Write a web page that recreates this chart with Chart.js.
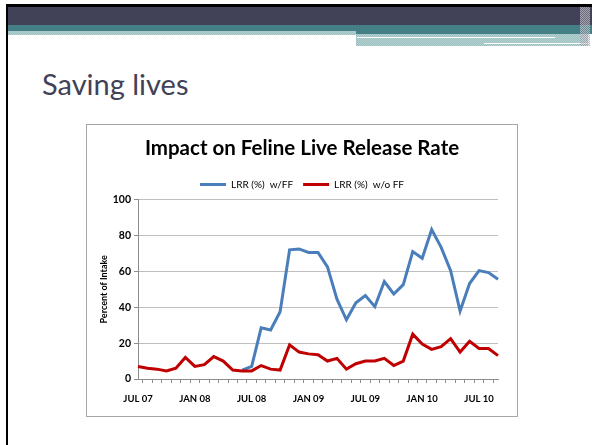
<!DOCTYPE html>
<html>
<head>
<meta charset="utf-8">
<script src="https://cdn.jsdelivr.net/npm/chart.js@4/dist/chart.umd.min.js"></script>
<style>
  html, body { margin: 0; padding: 0; background: #fff; }
  body { width: 592px; height: 445px; position: relative; overflow: hidden; }
  .border-top { position: absolute; left: 6px; top: 4px; width: 586px; height: 3px; background: #000; }
  .border-left { position: absolute; left: 6px; top: 4px; width: 2px; height: 441px; background: #000; }
  .bar-dark { position: absolute; left: 8px; top: 7px; width: 584px; height: 18px; background: #414257; }
  .bar-teal { position: absolute; left: 8px; top: 25px; width: 584px; height: 6px; background: #437f85; }
  .bar-teal-r { position: absolute; left: 356px; top: 31px; width: 236px; height: 3px; background: #437f85; }
  .check-l { position: absolute; left: 8px; top: 31px; width: 348px; height: 4px;
    background: repeating-conic-gradient(#9dc0c1 0 25%, #b4d1d2 0 50%) 0 0/2px 2px; }
  .check-r { position: absolute; left: 356px; top: 34px; width: 232px; height: 12px;
    background: repeating-conic-gradient(#9dc0c1 0 25%, #b4d1d2 0 50%) 0 0/2px 2px; }
  .line1 { position: absolute; left: 357px; top: 37px; width: 198px; height: 1px; background: #fff; }
  .line2 { position: absolute; left: 484px; top: 43px; width: 104px; height: 1px; background: #fff; }
  .col-r { position: absolute; left: 580px; top: 7px; width: 10px; height: 39px; opacity: 0.6;
    background: repeating-conic-gradient(#8a8a98 0 25%, #e0e0e6 0 50%) 0 0/2px 2px; }
  .slide-title { position: absolute; left: 42px; top: 69px; font-family: Lato, sans-serif;
    font-size: 29px; line-height: 1; color: #414257; white-space: nowrap; }
  .chart-box { position: absolute; left: 86px; top: 124px; width: 430px; height: 291px;
    border: 1px solid #a6a6a6; background: #fff; }
  canvas { display: block; }
</style>
</head>
<body>
<div class="border-top"></div>
<div class="border-left"></div>
<div class="bar-dark"></div>
<div class="bar-teal"></div>
<div class="bar-teal-r"></div>
<div class="check-l"></div>
<div class="check-r"></div>
<div class="line1"></div>
<div class="line2"></div>
<div class="col-r"></div>
<div class="slide-title">Saving lives</div>
<div class="chart-box"><canvas id="myChart" width="430" height="291"></canvas></div>

<script>
// months, JUL 07 .. SEP 10
const months = [
  'JUL 07', 'AUG 07', 'SEP 07', 'OCT 07', 'NOV 07', 'DEC 07',
  'JAN 08', 'FEB 08', 'MAR 08', 'APR 08', 'MAY 08', 'JUN 08',
  'JUL 08', 'AUG 08', 'SEP 08', 'OCT 08', 'NOV 08', 'DEC 08',
  'JAN 09', 'FEB 09', 'MAR 09', 'APR 09', 'MAY 09', 'JUN 09',
  'JUL 09', 'AUG 09', 'SEP 09', 'OCT 09', 'NOV 09', 'DEC 09',
  'JAN 10', 'FEB 10', 'MAR 10', 'APR 10', 'MAY 10', 'JUN 10',
  'JUL 10', 'AUG 10', 'SEP 10',
];

// LRR (%) w/FF - nothing before JUN 08
const withFF = [
  null, null, null, null, null, null,
  null, null, null, null, null, 5,
  7, 28.5, 27.3, 37.5, 72, 72.5,
  70.5, 70.5, 62.5, 44.5, 33, 42.5,
  46.5, 40.3, 54.3, 47.4, 52.6, 71,
  67.3, 83.3, 73.4, 60.4, 37.9, 53.2,
  60.4, 59.3, 55.6,
];

// LRR (%) w/o FF
const withoutFF = [
  7, 6, 5.5, 4.5, 6, 12,
  7, 8, 12.5, 10, 5, 4.5,
  4.5, 7.5, 5.5, 5, 19, 15,
  14, 13.5, 10, 11.5, 5.5, 8.5,
  10, 10, 11.5, 7.5, 10, 25,
  19.5, 16.5, 18, 22.5, 15, 21,
  17, 17, 13,
];

const yTicks = [0, 20, 40, 60, 80, 100];

const font = 'Lato, sans-serif';

const data = {
  labels: months,
  datasets: [{
    label: 'LRR (%)  w/FF',
    data: withFF,
    borderColor: '#4a7ebb',
    backgroundColor: '#4a7ebb',
    borderWidth: 3,
    pointRadius: 0,
    tension: 0,
    order: 2,
  },
  {
    label: 'LRR (%)  w/o FF',
    data: withoutFF,
    borderColor: '#c00000',
    backgroundColor: '#c00000',
    borderWidth: 3,
    pointRadius: 0,
    tension: 0,
    order: 1, // red drawn over blue
  }]
};

const config = {
  type: 'line',
  data: data,
  options: {
    responsive: false,
    animation: false,
    layout: { padding: { left: 10, right: 10, top: 0, bottom: 8 } },
    plugins: {
      title: {
        display: true,
        text: 'Impact on Feline Live Release Rate',
        color: '#000',
        font: { family: font, weight: 'bold', size: 20.5 },
        padding: { top: 11, bottom: 9 },
      },
      legend: {
        position: 'top',
        labels: {
          usePointStyle: true,
          pointStyle: 'line',
          pointStyleWidth: 26,
          boxHeight: 3,
          color: '#000',
          padding: 10,
          font: { family: font, size: 10 },
          sort: function(a, b) { return a.datasetIndex - b.datasetIndex; },
        }
      },
      tooltip: { enabled: false },
    },
    scales: {
      x: {
        grid: {
          offset: true,
          drawOnChartArea: false,
          drawTicks: true,
          tickLength: 4,
          color: '#8c8c8c',
        },
        border: { color: '#8c8c8c', width: 1 },
        ticks: {
          autoSkip: false,
          maxRotation: 0,
          padding: 10,
          color: '#000',
          font: { family: font, weight: 'bold', size: 9.5 },
          callback: function(value, index) {
            return index % 6 === 0 ? months[index] : '';
          }
        },
        afterFit: function(axis) { axis.height = 29; },
      },
      y: {
        min: 0,
        max: 100,
        afterBuildTicks: function(axis) {
          axis.ticks = yTicks.map(function(v) { return { value: v }; });
        },
        grid: {
          color: '#bfbfbf',
          tickLength: 4,
          tickColor: '#8c8c8c',
        },
        border: { color: '#8c8c8c', width: 1 },
        ticks: {
          padding: 3,
          color: '#000',
          font: { family: font, weight: 'bold', size: 10.5 },
        },
        title: {
          display: true,
          text: 'Percent of Intake',
          color: '#000',
          font: { family: font, weight: 'bold', size: 9 },
          padding: { top: 2, bottom: 0 },
        },
        afterFit: function(axis) { axis.width = 41; },
      },
      // empty spacer on the right so the title and legend stay centred on the box
      spacer: {
        position: 'right',
        display: true,
        grid: { drawOnChartArea: false, drawTicks: false },
        border: { display: false },
        ticks: { display: false },
        afterFit: function(axis) { axis.width = 9; },
      }
    }
  }
};

const myChart = new Chart(document.getElementById('myChart'), config);
</script>
</body>
</html>
